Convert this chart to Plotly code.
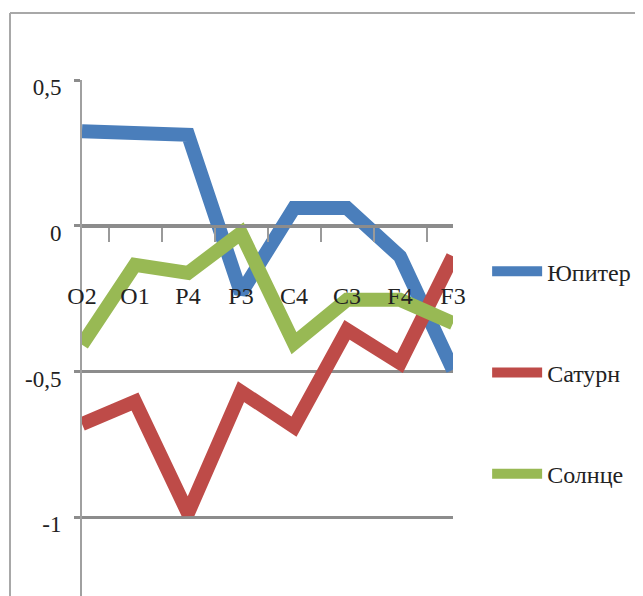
import plotly.graph_objects as go

categories = ["O2", "O1", "P4", "P3", "C4", "C3", "F4", "F3"]
jupiter = [0.324, 0.324, 0.312, -0.231, 0.061, 0.061, -0.105, -0.494]
saturn = [-0.68, -0.603, -0.986, -0.569, -0.689, -0.357, -0.471, -0.105]
sun = [-0.408, -0.134, -0.162, -0.025, -0.403, -0.254, -0.254, -0.334]
series_names = ["Юпитер", "Сатурн", "Солнце"]
colors = ["#4A7EBB", "#BE4B48", "#98B954"]
ytick_vals = [0.5, 0, -0.5, -1]
ytick_text = ["0,5", "0", "-0,5", "-1"]

FONT = "Liberation Serif, DejaVu Serif, serif"
# the page body adds an 8px offset, so the figure is 8px smaller than the window
W, H = 635, 588
ml, mr, mt, mb = 74, 190, 72, 0
PW, PH = W - ml - mr, H - mt - mb
y_range = [-1.27, 0.5]
zero_pos = (0 - y_range[0]) / (y_range[1] - y_range[0])

fig = go.Figure()
for name, vals, col in zip(series_names, [jupiter, saturn, sun], colors):
    fig.add_trace(go.Scatter(
        x=categories, y=vals, name=name, mode="lines",
        line=dict(color=col, width=14), legendgroup=name,
    ))

fig.update_layout(
    width=W, height=H,
    margin=dict(l=ml, r=mr, t=mt, b=mb, pad=0, autoexpand=False),
    paper_bgcolor="white", plot_bgcolor="white",
    font=dict(family=FONT, size=24, color="#222222"),
    showlegend=True,
    legend=dict(
        x=1.092, y=0.672, xanchor="left", yanchor="top",
        tracegroupgap=67, itemwidth=50,
        font=dict(family=FONT, size=24, color="#222222"),
        bgcolor="rgba(0,0,0,0)",
    ),
    xaxis=dict(
        type="category", anchor="free", position=zero_pos,
        showline=True, linecolor="#8C8C8C", linewidth=3,
        ticks="outside", ticklen=14, tickwidth=2, tickcolor="#9A9A9A",
        tickson="boundaries", showgrid=False, zeroline=False,
        ticklabelstandoff=47,
        tickfont=dict(family=FONT, size=24, color="#222222"),
    ),
    yaxis=dict(
        range=y_range, tickvals=ytick_vals, ticktext=ytick_text,
        showgrid=True, gridcolor="#8C8C8C", gridwidth=3,
        ticks="outside", ticklen=6, tickwidth=3, tickcolor="#8C8C8C",
        showline=True, linecolor="#A0A0A0", linewidth=2,
        zeroline=False, ticklabelstandoff=8, ticklabelshift=7,
        tickfont=dict(family=FONT, size=23, color="#222222"),
    ),
)

# chart-area border (top and left edges visible in the crop)
bx = (2 - ml) / PW
by = (H - mb - 5) / PH
fig.add_shape(type="line", xref="paper", yref="paper", x0=bx, x1=2, y0=by, y1=by,
              line=dict(color="#A8A8A8", width=2))
fig.add_shape(type="line", xref="paper", yref="paper", x0=bx, x1=bx, y0=-1, y1=by,
              line=dict(color="#A8A8A8", width=2))

fig.write_html("out.html")
